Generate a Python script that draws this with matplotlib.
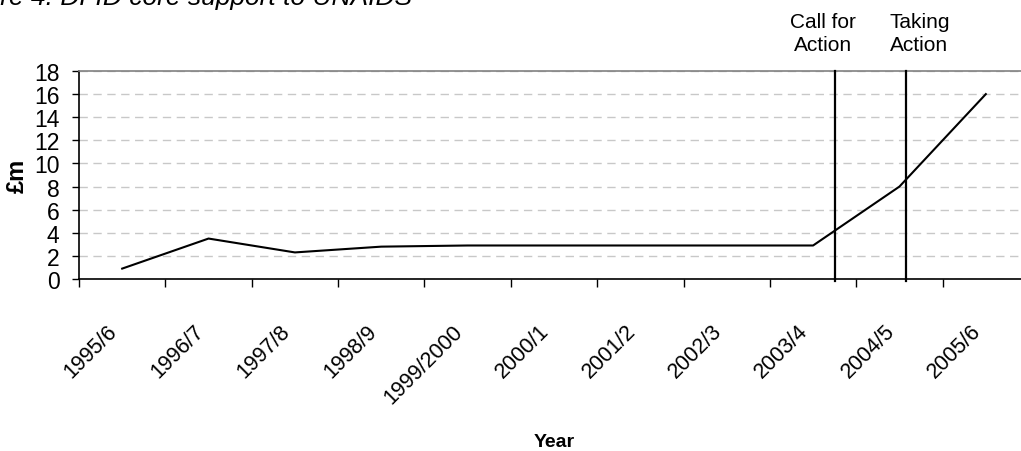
import matplotlib
matplotlib.use("Agg")
from matplotlib import pyplot as plt
import matplotlib.transforms as mtransforms

plt.rcParams['font.family'] = ['Liberation Sans', 'DejaVu Sans']

# data
years = ['1995/6', '1996/7', '1997/8', '1998/9', '1999/2000', '2000/1',
         '2001/2', '2002/3', '2003/4', '2004/5', '2005/6']
support = [0.9, 3.5, 2.3, 2.8, 2.9, 2.9, 2.9, 2.9, 2.9, 8.0, 16.0]
event_names = ['Call for\nAction', 'Taking\nAction']
event_pos = [8.25, 9.08]
event_text_shift = [-12, 13]  # pixels

fig = plt.figure(figsize=(10.21, 4.52), dpi=100)
ax = fig.add_axes([79 / 1021, 1 - 280 / 452, 950 / 1021, 208 / 452])

x = list(range(len(years)))
ax.plot(x, support, color='black', lw=1.5, zorder=3)

ax.set_xlim(-0.5, len(years) - 0.5)
ax.set_ylim(0, 18)

# gridlines
ax.set_yticks(range(0, 19, 2))
ax.yaxis.grid(True, color='#c8c8c8', linestyle=(0, (6, 4)), lw=1.0)
ax.set_axisbelow(True)

# x ticks on category boundaries, labels at centers
ax.set_xticks([i - 0.5 for i in range(len(years) + 1)])
ax.set_xticklabels([])
ax.set_xticks(x, minor=True)
ax.set_xticklabels(years, minor=True, rotation=45, ha='right', va='center',
                   rotation_mode='anchor')
ax.tick_params(axis='x', which='major', length=6, width=1, direction='out')
ax.tick_params(axis='x', which='minor', length=0, pad=35, labelsize=15.5)
ax.tick_params(axis='y', length=5, width=1, labelsize=16.5, pad=9)
shift = mtransforms.ScaledTranslation(-8 / 100, 0, fig.dpi_scale_trans)
for lbl in ax.get_xticklabels(minor=True):
    lbl.set_transform(lbl.get_transform() + shift)

for s in ['left', 'bottom']:
    ax.spines[s].set_color('black')
    ax.spines[s].set_linewidth(1.2)
ax.spines['top'].set_color('#808080')
ax.spines['top'].set_linewidth(1.2)
ax.spines['right'].set_visible(False)

ax.set_ylabel('£m', fontsize=17, fontweight='bold', labelpad=3.5)
ax.set_xlabel('Year', fontsize=14, fontweight='bold', labelpad=19)

# event markers
for name, pos, dx in zip(event_names, event_pos, event_text_shift):
    ax.plot([pos, pos], [-0.2, 18], color='black', lw=1.6, clip_on=False, zorder=4)
    ax.annotate(name, xy=(pos, 18), xytext=(dx, 17), textcoords='offset pixels',
                ha='center', va='bottom', fontsize=15, linespacing=1.3,
                annotation_clip=False)

fig.text(412 / 1021, 1 - 5 / 452, 'Figure 4: DFID core support to UNAIDS',
         ha='right', va='baseline', fontsize=19, style='italic')

fig.savefig('out.png', dpi=100)
